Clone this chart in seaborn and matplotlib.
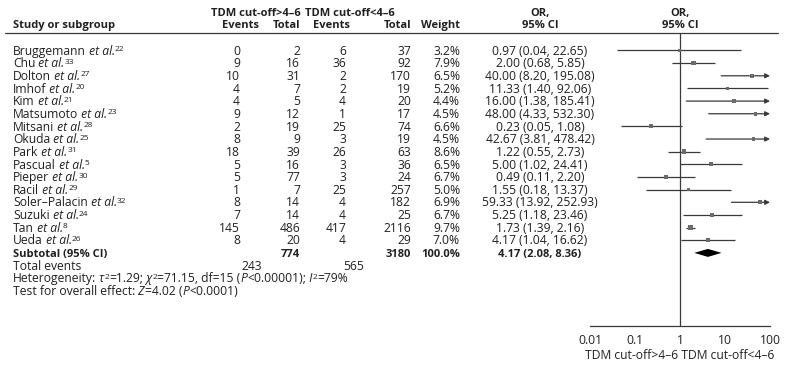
import numpy as np
import pandas as pd
import matplotlib
matplotlib.use('Agg')
import matplotlib.pyplot as plt
import seaborn as sns

# data
studies = ['Bruggemann', 'Chu', 'Dolton', 'Imhof', 'Kim', 'Matsumoto', 'Mitsani', 'Okuda',
           'Park', 'Pascual', 'Pieper', 'Racil', 'Soler–Palacin', 'Suzuki', 'Tan', 'Ueda']
refs = ['22', '33', '27', '20', '21', '23', '28', '25', '31', '5', '30', '29', '32', '24', '8', '26']
ev_hi = [0, 9, 10, 4, 4, 9, 2, 8, 18, 5, 5, 1, 8, 7, 145, 8]
tot_hi = [2, 16, 31, 7, 5, 12, 19, 9, 39, 16, 77, 7, 14, 14, 486, 20]
ev_lo = [6, 36, 2, 2, 4, 1, 25, 3, 26, 3, 3, 25, 4, 4, 417, 4]
tot_lo = [37, 92, 170, 19, 20, 17, 74, 19, 63, 36, 24, 257, 182, 25, 2116, 29]
weight = [3.2, 7.9, 6.5, 5.2, 4.4, 4.5, 6.6, 4.5, 8.6, 6.5, 6.7, 5.0, 6.9, 6.7, 9.7, 7.0]
or_est = [0.97, 2.00, 40.00, 11.33, 16.00, 48.00, 0.23, 42.67, 1.22, 5.00, 0.49, 1.55, 59.33, 5.25, 1.73, 4.17]
ci_lo = [0.04, 0.68, 8.20, 1.40, 1.38, 4.33, 0.05, 3.81, 0.55, 1.02, 0.11, 0.18, 13.92, 1.18, 1.39, 1.04]
ci_hi = [22.65, 5.85, 195.08, 92.06, 185.41, 532.30, 1.08, 478.42, 2.73, 24.41, 2.20, 13.37, 252.93, 23.46, 2.16, 16.62]
sub_tot = [774, 3180]
sub_weight = '100.0%'
sub_events = [243, 565]
pooled = [4.17, 2.08, 8.36]
ticks = [0.01, 0.1, 1, 10, 100]
tick_labels = ['0.01', '0.1', '1', '10', '100']

sns.set_style('white')
plt.rcParams['font.family'] = ['Open Sans', 'DejaVu Sans']

TXT = '#231f20'
LINE = '#3a3a3a'
FS = 8.7       # regular text
FSB = 8.0      # bold text (Open Sans bold runs wide)
W, H = 790, 368
DY = 12.65
BASE = 4.2     # row centre -> baseline

df = pd.DataFrame({'study': studies, 'w': weight, 'or': or_est, 'lo': ci_lo, 'hi': ci_hi})
df['y'] = 50.5 + DY * np.arange(len(df))
y_sub = 50.5 + DY * 16
y_ev, y_het, y_test = y_sub + DY, y_sub + 2 * DY, y_sub + 3 * DY

fig = plt.figure(figsize=(W / 100, H / 100), dpi=100)
ax = fig.add_axes([0, 0, 1, 1])
ax.set_xlim(0, W)
ax.set_ylim(H, 0)
ax.axis('off')
rend = fig.canvas.get_renderer()

def txt(x, y, s, ha='left', bold=False):
    return ax.text(x, y + BASE, s, ha=ha, va='baseline', color=TXT,
                   fontsize=FSB if bold else FS,
                   fontweight='bold' if bold else 'normal')

def runs(x, y, parts):
    # parts: (text, style, raise_px, scale)
    for s, style, up, sc in parts:
        t = ax.text(x, y + BASE - up, s, ha='left', va='baseline', color=TXT,
                    fontsize=FS * sc, style=style)
        x += t.get_window_extent(renderer=rend).width

# column headers
c_ev1, c_tot1, c_ev2, c_tot2, c_w, c_or = 240, 300, 346, 411, 460, 540
txt(301, 12, 'TDM cut-off>4–6', ha='right', bold=True)
txt(305, 12, 'TDM cut-off<4–6', ha='left', bold=True)
txt(13, 24, 'Study or subgroup', bold=True)
txt(259, 24, 'Events', ha='right', bold=True)
txt(c_tot1, 24, 'Total', ha='right', bold=True)
txt(350, 24, 'Events', ha='right', bold=True)
txt(c_tot2, 24, 'Total', ha='right', bold=True)
txt(c_w, 24, 'Weight', ha='right', bold=True)
txt(c_or, 12, 'OR,', ha='center', bold=True)
txt(c_or, 24, '95% CI', ha='center', bold=True)
txt(680.5, 12, 'OR,', ha='center', bold=True)
txt(680.5, 24, '95% CI', ha='center', bold=True)
ax.plot([5, 778], [33, 33], color=LINE, lw=0.9)

for i, r in df.iterrows():
    y = r['y']
    runs(13, y, [(r['study'], 'normal', 0, 1), (' et al.', 'italic', 0, 1),
                 (refs[i], 'normal', 3.6, 0.68)])
    txt(c_ev1, y, str(ev_hi[i]), ha='right')
    txt(c_tot1, y, str(tot_hi[i]), ha='right')
    txt(c_ev2, y, str(ev_lo[i]), ha='right')
    txt(c_tot2, y, str(tot_lo[i]), ha='right')
    txt(c_w, y, f'{weight[i]:.1f}%', ha='right')
    txt(c_or, y, f"{or_est[i]:.2f} ({ci_lo[i]:.2f}, {ci_hi[i]:.2f})", ha='center')

txt(13, y_sub, 'Subtotal (95% CI)', bold=True)
txt(c_tot1, y_sub, str(sub_tot[0]), ha='right', bold=True)
txt(c_tot2, y_sub, str(sub_tot[1]), ha='right', bold=True)
txt(c_w, y_sub, sub_weight, ha='right', bold=True)
txt(c_or, y_sub, f'{pooled[0]:.2f} ({pooled[1]:.2f}, {pooled[2]:.2f})', ha='center', bold=True)
txt(13, y_ev, 'Total events')
txt(262, y_ev, str(sub_events[0]), ha='right')
txt(364, y_ev, str(sub_events[1]), ha='right')
n, it = 'normal', 'italic'
runs(13, y_het, [('Heterogeneity:', n, 0, 1), (' τ', it, 0, 1), ('2', n, 3.6, 0.68),
                 ('=1.29;', n, 0, 1), (' χ', it, 0, 1), ('2', n, 3.6, 0.68),
                 ('=71.15, df=15 (', n, 0, 1), ('P', it, 0, 1), ('<0.00001);', n, 0, 1),
                 (' I', it, 0, 1), ('2', n, 3.6, 0.68), ('=79%', n, 0, 1)])
runs(13, y_test, [('Test for overall effect:', n, 0, 1), (' Z', it, 0, 1),
                  ('=4.02 (', n, 0, 1), ('P', it, 0, 1), ('<0.0001)', n, 0, 1)])

# forest panel, y in figure pixels
axf = fig.add_axes([590 / W, (H - 326) / H, 180 / W, (326 - 33) / H])
axf.patch.set_alpha(0)
axf.set_xscale('log')
axf.set_xlim(0.01, 100)
axf.set_ylim(326, 33)
axf.axvline(1, color=LINE, lw=0.9, zorder=1)

for _, r in df.iterrows():
    if r['hi'] > 100:
        axf.annotate('', xy=(100, r['y']), xytext=(r['lo'], r['y']), annotation_clip=False,
                     arrowprops=dict(arrowstyle='-|>', color=LINE, lw=0.9,
                                     mutation_scale=7, shrinkA=0, shrinkB=0))
    else:
        axf.hlines(r['y'], r['lo'], r['hi'], color=LINE, lw=0.9)

sns.scatterplot(data=df, x='or', y='y', size='w', sizes=(5, 12), marker='s',
                color='#6b6b6b', edgecolor='none', legend=False, ax=axf, zorder=3)

ds = 4
axf.fill([pooled[1], pooled[0], pooled[2], pooled[0]],
         [y_sub, y_sub - ds, y_sub, y_sub + ds], color='black', lw=0)

for s in ['top', 'right', 'left']:
    axf.spines[s].set_visible(False)
axf.spines['bottom'].set_color(LINE)
axf.spines['bottom'].set_linewidth(0.9)
axf.set_yticks([])
axf.set_ylabel('')
axf.set_xticks(ticks)
axf.set_xticklabels(tick_labels)
axf.minorticks_off()
axf.tick_params(axis='x', direction='inout', length=7, width=0.9, color=LINE,
                labelsize=FS, labelcolor=TXT, pad=2)
axf.set_xlabel('TDM cut-off>4–6 TDM cut-off<4–6', fontsize=FS, color=TXT, labelpad=1.5)

fig.savefig('out.png', dpi=100)
